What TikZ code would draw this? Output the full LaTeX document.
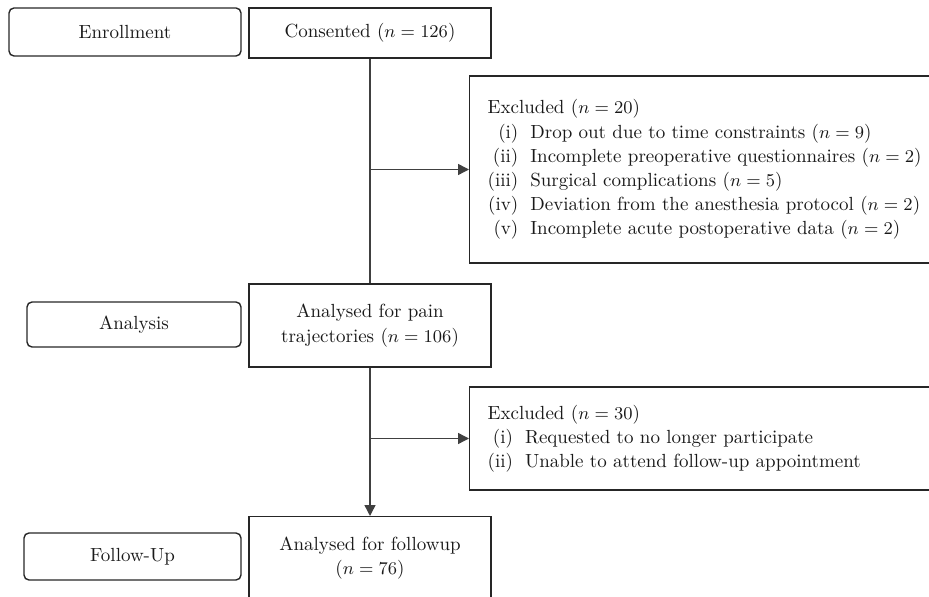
\documentclass[tikz,border=0pt]{standalone}
\usetikzlibrary{arrows.meta}
\begin{document}
\begin{tikzpicture}[x=0.5pt,y=-0.5pt,
  every node/.style={font=\fontsize{9.5}{12.1}\selectfont,text=black!90},
  stage/.style={draw=black!85,line width=0.7pt,rounded corners=2.5pt,inner sep=0pt},
  flow/.style={draw=black!85,line width=0.7pt,align=center,minimum width=121pt,inner sep=0pt},
  excl/.style={draw=black!85,line width=0.7pt,anchor=west,inner xsep=9pt,inner ysep=0pt,text width=222pt,align=left},
  link/.style={draw=black!75,line width=0.7pt},
  arr/.style={link,-{Triangle[length=5.5pt,width=5.5pt]}}]
\useasboundingbox (0,0) rectangle (929,597);
\clip (0,0) rectangle (929,597);
\node[stage,minimum width=116pt,minimum height=24pt] (enroll) at (125,32) {Enrollment};
\node[flow,minimum height=25pt] (consent) at (370,33) {Consented ($n = 126$)};
\node[excl,minimum height=93.5pt] (excla) at (469,169.5) {%
  \begin{tabular}{@{}r@{\hspace{6pt}}l@{}}
  \multicolumn{2}{@{}l@{}}{Excluded ($n = 20$)}\\
  (i) & Drop out due to time constraints ($n = 9$)\\
  (ii) & Incomplete preoperative questionnaires ($n = 2$)\\
  (iii) & Surgical complications ($n = 5$)\\
  (iv) & Deviation from the anesthesia protocol ($n = 2$)\\
  (v) & Incomplete acute postoperative data ($n = 2$)
  \end{tabular}};
\node[stage,minimum width=107pt,minimum height=22.5pt] (analysis) at (134,324.5) {Analysis};
\node[flow,minimum height=41.5pt] (pain) at (370,325.5) {Analysed for pain\\trajectories ($n = 106$)};
\node[excl,minimum height=51.5pt] (exclb) at (469,438.5) {%
  \begin{tabular}{@{}r@{\hspace{6pt}}l@{}}
  \multicolumn{2}{@{}l@{}}{Excluded ($n = 30$)}\\
  (i) & Requested to no longer participate\\
  (ii) & Unable to attend follow-up appointment
  \end{tabular}};
\node[stage,minimum width=108.5pt,minimum height=23.5pt] (follow) at (132.5,556.5) {Follow-Up};
\node[flow,minimum height=41pt,anchor=north] (followup) at (370,516) {Analysed for followup\\($n = 76$)};
\coordinate (forka) at (consent |- excla.west);
\coordinate (forkb) at (pain |- exclb.west);
\draw[link] (consent) -- (pain);
\draw[arr] (forka) -- (excla.west);
\draw[arr] (pain) -- (followup);
\draw[arr] (forkb) -- (exclb.west);
\end{tikzpicture}
\end{document}
